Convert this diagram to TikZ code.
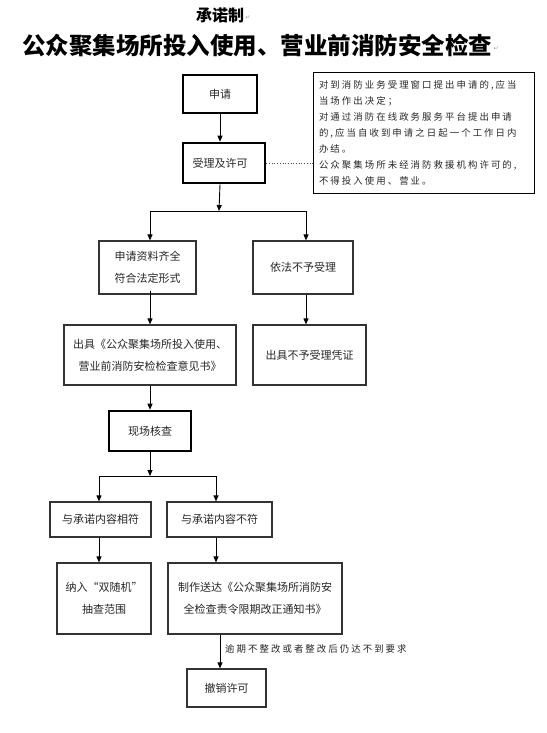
\documentclass[tikz,border=0pt]{standalone}
\usepackage{fontspec}
\setmainfont{DejaVu Sans}
\newfontfamily\cjk{Noto Sans CJK SC}
\newfontfamily\cjknote[LetterSpace=22]{Noto Sans CJK SC}
\newfontfamily\sym{DejaVu Sans}
\usetikzlibrary{arrows.meta,calc}
\begin{document}
\begin{tikzpicture}[x=1pt,y=-1pt,
  every node/.style={inner sep=0pt,font=\cjk\fontsize{11}{22}\selectfont,text=black!85},
  box/.style={draw=black!80,line width=1.2pt,align=center},
  tbox/.style={draw=black,line width=2.6pt,align=center},
  notebox/.style={draw=black,line width=0.8pt,align=left,font=\cjknote\fontsize{9.4}{16}\selectfont},
  arr/.style={line width=0.9pt,-{Triangle[length=6pt,width=5pt]}},
  ln/.style={line width=0.9pt},
  pmark/.style={text=black!40,font=\sym\fontsize{6}{6}\selectfont}]
\useasboundingbox (0,0) rectangle (546,733);
% titles
\node[font=\cjk\bfseries\fontsize{16}{16}\selectfont,text=black] (t1) at (220,15) {承诺制};
\node[pmark,anchor=west] (t1m) at ([xshift=1pt,yshift=-3pt]t1.east) {↵};
\node[font=\cjk\bfseries\fontsize{23.5}{23.5}\selectfont,text=black,anchor=west] (t2) at (22,46) {公众聚集场所投入使用、营业前消防安全检查};
\node[pmark,anchor=west] (t2m) at ([xshift=1pt,yshift=-3pt]t2.east) {↵};
% boxes
\node[tbox,minimum width=74,minimum height=38] (sq) at (220,94) {申请};
\node[tbox,minimum width=82,minimum height=40] (sl) at (224,163) {\hspace*{-8pt}受理及许可};
\node[notebox,minimum width=219,minimum height=121,text width=209,inner xsep=6pt] (note) at (423.5,132.5)
 {对到消防业务受理窗口提出申请的,应当\\当场作出决定；\\对通过消防在线政务服务平台提出申请\\的,应当自收到申请之日起一个工作日内\\办结。\\公众聚集场所未经消防救援机构许可的,\\不得投入使用、营业。};
\node[box,minimum width=97,minimum height=53] (zl) at (147.5,267.5) {申请资料齐全\\符合法定形式};
\node[box,minimum width=100,minimum height=53] (by) at (303,267.5) {依法不予受理};
\node[box,minimum width=172,minimum height=60] (cj) at (150,355) {出具《公众聚集场所投入使用、\\营业前消防安检检查意见书》};
\node[box,minimum width=113,minimum height=60] (bj) at (309.5,355) {出具不予受理凭证};
\node[tbox,minimum width=82,minimum height=40] (xc) at (150,431) {现场核查};
\node[box,minimum width=101,minimum height=35] (xf) at (100.5,519.5) {与承诺内容相符};
\node[box,minimum width=105,minimum height=35] (bf) at (219.5,519.5) {与承诺内容不符};
\node[box,minimum width=94,minimum height=71] (nr) at (104,598.5) {纳入“双随机”\\抽查范围};
\node[box,minimum width=174,minimum height=71] (zz) at (255,598.5) {制作送达《公众聚集场所消防安\\全检查责令限期改正通知书》};
\node[box,minimum width=79,minimum height=38] (cx) at (226.5,688) {撤销许可};
% connectors
\coordinate (j1) at (219,211);
\coordinate (j2) at (150,476);
\draw[arr] (sq.south) -- (sq.south |- sl.north);
\draw[arr] (sq.south |- sl.south) -- (j1);
\draw[dotted,line width=0.7pt,black!70] (sl.east) -- (sl.east -| note.west);
\draw[ln] ([xshift=2.5pt]zl.north |- j1) -- ([xshift=3pt]by.north |- j1);
\draw[arr] ([xshift=2.5pt]zl.north |- j1) -- ([xshift=2.5pt]zl.north);
\draw[arr] ([xshift=3pt]by.north |- j1) -- ([xshift=3pt]by.north);
\draw[arr] ([xshift=2.5pt,yshift=4pt]zl.south) -- ([xshift=2.5pt]zl.south |- cj.north);
\draw[arr] ([xshift=3pt]by.south) -- ([xshift=3pt]by.south |- bj.north);
\draw[arr] (cj.south) -- (xc.north);
\draw[arr] (xc.south) -- (j2);
\draw[ln] ([xshift=-1.5pt]xf.north |- j2) -- ([xshift=-3.5pt]bf.north |- j2);
\draw[arr] ([xshift=-1.5pt]xf.north |- j2) -- ([xshift=-1.5pt]xf.north);
\draw[arr] ([xshift=-3.5pt]bf.north |- j2) -- ([xshift=-3.5pt]bf.north);
\draw[arr] ([xshift=-1.5pt]xf.south) -- ([xshift=-1.5pt]xf.south |- nr.north);
\draw[arr] ([xshift=-3.5pt]bf.south) -- ([xshift=-3.5pt]bf.south |- zz.north);
\draw[arr] ([xshift=-35pt]zz.south) -- ([xshift=-35pt]zz.south |- cx.north) coordinate (ce);
\node[font=\cjknote\fontsize{9.4}{9.4}\selectfont,anchor=west] (lbl) at (225,649) {逾期不整改或者整改后仍达不到要求};
\end{tikzpicture}
\end{document}
